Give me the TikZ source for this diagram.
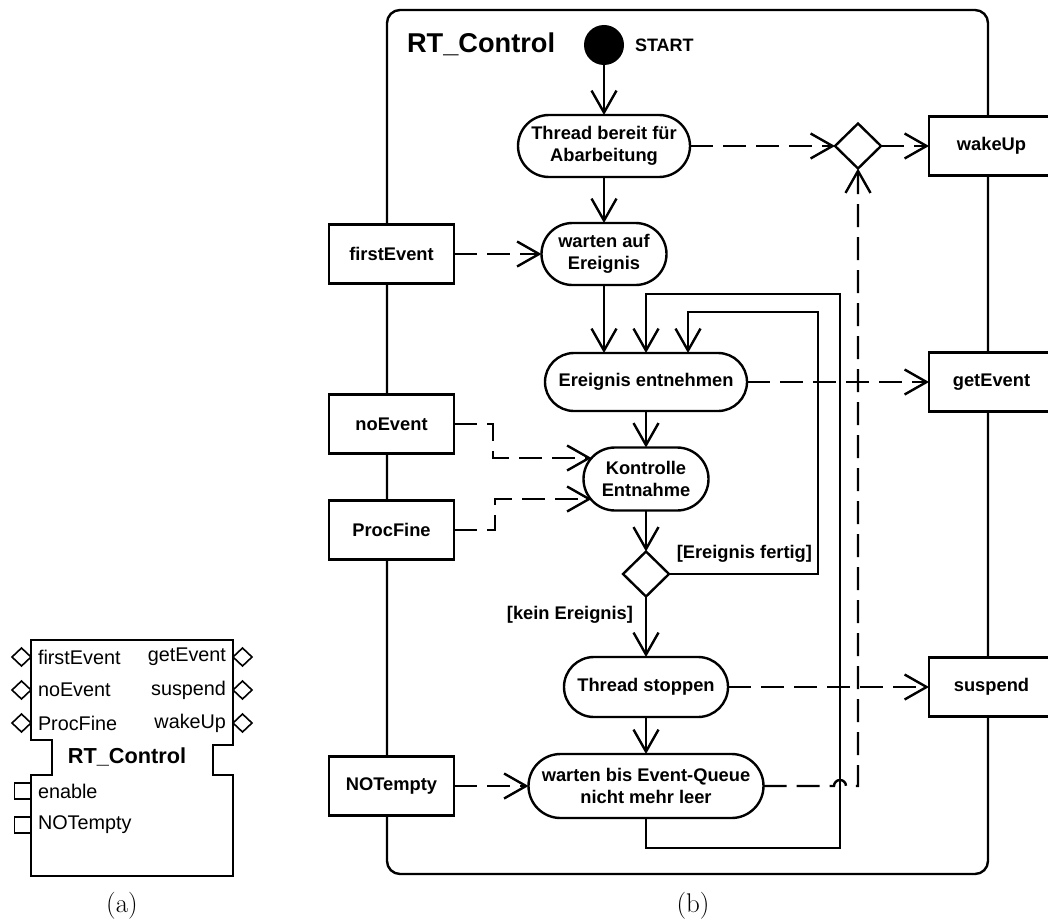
\documentclass[tikz,border=0pt]{standalone}
\usepackage{fontspec}
\newfontfamily\arialfont{Liberation Sans}
\usetikzlibrary{arrows.meta,shapes.geometric}

\begin{document}
\begin{tikzpicture}[x=1pt,y=-1pt,
  every node/.style={inner sep=0pt,outer sep=0pt},
  ln/.style={line width=2.4pt},
  thin ln/.style={line width=1.6pt},
  tip/.style={-{Straight Barb[length=22pt,width=25pt]}},
  flow/.style={ln,tip},
  dflow/.style={ln,tip,dash pattern=on 23pt off 10pt},
  lbl/.style={font=\arialfont\bfseries\fontsize{18.3pt}{22pt}\selectfont},
  act/.style 2 args={rectangle,draw,ln,fill=white,align=center,
    minimum width=#1pt,minimum height=#2pt,rounded corners=#2pt/2,lbl},
  pin/.style={rectangle,draw,ln,fill=white,minimum width=125pt,
    minimum height=59pt,lbl},
  choice/.style={diamond,draw,ln,fill=white,minimum width=46pt,
    minimum height=45pt},
  port/.style={diamond,draw,thin ln,fill=white,minimum width=19pt,
    minimum height=18pt},
  evport/.style={rectangle,draw,thin ln,fill=white,minimum size=16pt},
  plbl/.style={font=\arialfont\fontsize{19.8pt}{23pt}\selectfont},
  caption/.style={font=\fontsize{27pt}{32pt}\selectfont}]

\useasboundingbox (0,0) rectangle (1048,923);

% ---------- (a) function block ----------
\draw[thin ln] (31,640) -- (233,640) -- (233,745) -- (213,745) -- (213,775)
  -- (233,775) -- (233,876) -- (31,876) -- (31,775) -- (52,775) -- (52,740)
  -- (31,740) -- cycle;
\node[port] (pFirst) at (21.5,657) {};
\node[port] (pNo)    at (21.5,690) {};
\node[port] (pProc)  at (21.5,723) {};
\node[port] (pGet)   at (242.5,657) {};
\node[port] (pSusp)  at (242.5,690) {};
\node[port] (pWake)  at (242.5,723) {};
\node[evport] (pEnable) at (22.5,791) {};
\node[evport] (pNot)    at (22.5,825) {};
\node[plbl,anchor=west] (tFirst) at (38,657) {firstEvent};
\node[plbl,anchor=west] (tNo)    at (38,690) {noEvent};
\node[plbl,anchor=west] (tProc)  at (38,723) {ProcFine};
\node[plbl,anchor=east] (tGet)   at (226,657) {getEvent};
\node[plbl,anchor=east] (tSusp)  at (226,690) {suspend};
\node[plbl,anchor=east] (tWake)  at (226,723) {wakeUp};
\node[plbl,anchor=west] (tEnable) at (38,791) {enable};
\node[plbl,anchor=west] (tNot)    at (38,825) {NOTempty};
\node[font=\arialfont\bfseries\fontsize{21.7pt}{26pt}\selectfont]
  (blockName) at (127,757) {RT\_Control};
\node[caption] (capA) at (122,906) {(a)};

% ---------- (b) activity frame ----------
\draw[ln,rounded corners=13pt] (387,10) rectangle (988,874);
\node[anchor=west,font=\arialfont\bfseries\fontsize{27.2pt}{32pt}\selectfont]
  (title) at (407,44) {RT\_Control};
\node[circle,fill=black,minimum size=40pt] (start) at (604,45) {};
\node[anchor=west,font=\arialfont\bfseries\fontsize{18pt}{22pt}\selectfont]
  (startLbl) at (635,45) {START};

% feedback loops (drawn beneath the nodes)
\draw[flow] (646,818) |- (840,848) -- (840,294) -| (646,353);

% actions
\node[act={172}{62}] (thr1)  at (604,146) {Thread bereit für\\Abarbeitung};
\node[act={125}{62}] (wait1) at (604,254) {warten auf\\Ereignis};
\node[act={202}{58}] (take)  at (646,382) {Ereignis entnehmen};
\node[act={125}{63}] (check) at (646,479) {Kontrolle\\Entnahme};
\node[choice] (dec) at (646,574) {};
\node[act={164}{60}] (stop)  at (646,687) {Thread stoppen};
\node[act={235}{64}] (wait2) at (646,786) {warten bis Event-Queue\\nicht mehr leer};
\node[choice] (topdec) at (858,146) {};

% pins
\node[pin] (firstEvent) at (391.5,254) {firstEvent};
\node[pin] (noEvent)    at (391.5,424) {noEvent};
\node[pin] (procFine)   at (391.5,530) {ProcFine};
\node[pin] (notEmpty)   at (391.5,786) {NOTempty};
\node[pin] (wakeUp)     at (991.5,146) {wakeUp};
\node[pin] (getEvent)   at (991.5,382) {getEvent};
\node[pin] (suspend)    at (991.5,687) {suspend};

% guards
\node[lbl,anchor=east] (gDone) at (812,554) {[Ereignis fertig]};
\node[lbl,anchor=east] (gNone) at (633,615) {[kein Ereignis]};

% control flow
\draw[flow] (start) -- (thr1);
\draw[flow] (thr1) -- (wait1);
\draw[flow] (wait1.south) -- (wait1.south |- take.north);
\draw[flow] (take) -- (check);
\draw[flow] (check) -- (dec);
\draw[flow] (dec) -- (stop);
\draw[flow] (stop) -- (wait2);
\draw[flow] (dec.east) -| (818,312) -| ([xshift=42pt]take.north);

% object flow
\draw[dflow] (firstEvent.east) -- (wait1.west);
\draw[dflow] (noEvent.east) -- ++(39,0) |- ([xshift=8pt,yshift=21pt]check.west);
\draw[dflow] (procFine.east) -- ++(41,0) |- ([xshift=8pt,yshift=-20pt]check.west);
\draw[dflow] (notEmpty.east) -- (wait2.west);
\draw[dflow] (thr1.east) -- (topdec.west);
\draw[dflow] (topdec.east) -- (wakeUp.west);
\draw[dflow] (take.east) -- (getEvent.west);
\draw[dflow] (stop.east) -- (suspend.west);
\draw[dflow] (wait2.east) -- (834,786) arc[start angle=180,end angle=0,radius=6pt]
  -| (topdec.south);

\node[caption] (capB) at (693,906) {(b)};
\end{tikzpicture}
\end{document}
